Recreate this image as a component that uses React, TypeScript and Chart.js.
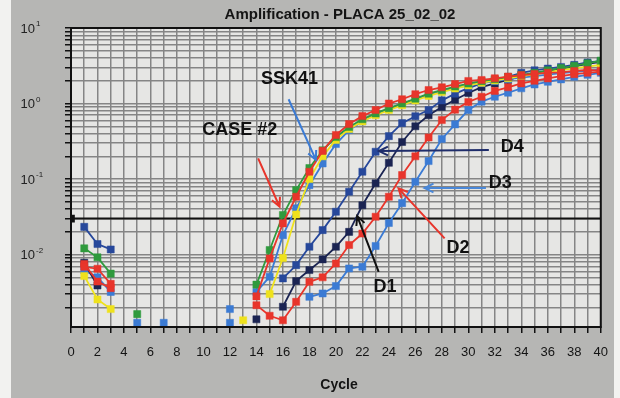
import React, { useEffect, useRef } from "react";
import { Chart, registerables } from "chart.js";

Chart.register(...registerables);

const chartTitle = "Amplification - PLACA 25_02_02";
const xTitle = "Cycle";
const xLabelValues = [0, 2, 4, 6, 8, 10, 12, 14, 16, 18, 20, 22, 24, 26, 28, 30, 32, 34, 36, 38, 40];
const yDecades = [10, 1, 0.1, 0.01];
const yExponents = ["1", "0", "-1", "-2"];
const threshold = 0.03;

// [cycle, fluorescence] pairs
const caseRed: [number, number][] = [
  [1, 0.0069], [2, 0.0065], [3, 0.0041],
  [14, 0.0028], [15, 0.0089], [16, 0.0259], [17, 0.0583], [18, 0.125], [19, 0.236], [20, 0.383],
  [21, 0.535], [22, 0.682], [23, 0.82], [24, 1.0], [25, 1.14], [26, 1.33], [27, 1.51], [28, 1.64],
  [29, 1.81], [30, 1.99], [31, 2.05], [32, 2.16], [33, 2.27], [34, 2.38], [35, 2.46], [36, 2.56],
  [37, 2.58], [38, 2.7], [39, 2.78], [40, 2.72],
];
const d2Red: [number, number][] = [
  [1, 0.0075], [2, 0.0044], [3, 0.0036],
  [14, 0.00214], [15, 0.00155], [16, 0.00135], [17, 0.00237], [18, 0.00436], [19, 0.005], [20, 0.00764],
  [21, 0.0134], [22, 0.019], [23, 0.0317], [24, 0.0583], [25, 0.113], [26, 0.2], [27, 0.356], [28, 0.604],
  [29, 0.83], [30, 1.05], [31, 1.23], [32, 1.47], [33, 1.64], [34, 1.85], [35, 2.0], [36, 2.15],
  [37, 2.3], [38, 2.45], [39, 2.55], [40, 2.65],
];
const greenSeries: [number, number][] = [
  [1, 0.0121], [2, 0.0092], [3, 0.0056], [5, 0.00163],
  [14, 0.004], [15, 0.0115], [16, 0.0334], [17, 0.0714], [18, 0.14], [19, 0.24], [20, 0.36],
  [21, 0.49], [22, 0.62], [23, 0.74], [24, 0.87], [25, 1.0], [26, 1.16], [27, 1.35], [28, 1.5],
  [29, 1.68], [30, 1.84], [31, 1.98], [32, 2.1], [33, 2.25], [34, 2.4], [35, 2.55], [36, 2.75],
  [37, 2.95], [38, 3.15], [39, 3.4], [40, 3.7],
];
const yellowSeries: [number, number][] = [
  [1, 0.0052], [2, 0.00255], [3, 0.0019], [13, 0.00135],
  [15, 0.003], [16, 0.009], [17, 0.034], [18, 0.1], [19, 0.2], [20, 0.33],
  [21, 0.46], [22, 0.58], [23, 0.7], [24, 0.82], [25, 0.95], [26, 1.1], [27, 1.26], [28, 1.42],
  [29, 1.58], [30, 1.74], [31, 1.88], [32, 2.02], [33, 2.16], [34, 2.3], [35, 2.44], [36, 2.6],
  [37, 2.76], [38, 2.92], [39, 3.08], [40, 3.25],
];
const ssk41Blue: [number, number][] = [
  [12, 0.0019],
  [14, 0.0032], [15, 0.0051], [16, 0.0181], [17, 0.041], [18, 0.083], [19, 0.161], [20, 0.291],
  [21, 0.446], [22, 0.58], [23, 0.72], [24, 0.86], [25, 1.0], [26, 1.14], [27, 1.3], [28, 1.45],
  [29, 1.6], [30, 1.74], [31, 1.87], [32, 1.98], [33, 2.1], [34, 2.2], [35, 2.3], [36, 2.42],
  [37, 2.52], [38, 2.62], [39, 2.72], [40, 2.82],
];
const d4Blue: [number, number][] = [
  [1, 0.0233], [2, 0.0138], [3, 0.0117],
  [16, 0.00484], [17, 0.00726], [18, 0.0127], [19, 0.0211], [20, 0.0369],
  [21, 0.068], [22, 0.125], [23, 0.23], [24, 0.37], [25, 0.55], [26, 0.68], [27, 0.82], [28, 1.1],
  [29, 1.35], [30, 1.6], [31, 1.85], [32, 2.05], [33, 2.25], [34, 2.55], [35, 2.75], [36, 2.9],
  [37, 3.05], [38, 3.25], [39, 3.5], [40, 3.65],
];
const d1Navy: [number, number][] = [
  [1, 0.0078], [2, 0.0039],
  [14, 0.00139],
  [16, 0.00204], [17, 0.00446], [18, 0.00624], [19, 0.00865], [20, 0.0127],
  [21, 0.02], [22, 0.045], [23, 0.088], [24, 0.164], [25, 0.31], [26, 0.5], [27, 0.7], [28, 0.9],
  [29, 1.12], [30, 1.38], [31, 1.65], [32, 1.85], [33, 2.05], [34, 2.3], [35, 2.5], [36, 2.7],
  [37, 2.9], [38, 3.1], [39, 3.35], [40, 3.55],
];
const d3Blue: [number, number][] = [
  [1, 0.0062], [2, 0.005], [3, 0.0032], [5, 0.00125], [7, 0.00125], [12, 0.00125],
  [18, 0.00276], [19, 0.00306], [20, 0.00383],
  [21, 0.00656], [22, 0.0069], [23, 0.013], [24, 0.0262], [25, 0.048], [26, 0.092], [27, 0.173], [28, 0.34],
  [29, 0.53], [30, 0.82], [31, 1.06], [32, 1.23], [33, 1.39], [34, 1.59], [35, 1.79], [36, 1.94],
  [37, 2.09], [38, 2.26], [39, 2.4], [40, 2.55],
];

const RED = "#e8352b";
const GREEN = "#2f9a3d";
const YELLOW = "#efe21c";
const LBLUE = "#3b7bd4";
const MBLUE = "#27489b";
const NAVY = "#1b2452";

const seriesList = [
  { name: "CASE #2", pts: caseRed, color: RED },
  { name: "D2", pts: d2Red, color: RED },
  { name: "green", pts: greenSeries, color: GREEN },
  { name: "yellow", pts: yellowSeries, color: YELLOW },
  { name: "SSK41", pts: ssk41Blue, color: LBLUE },
  { name: "D4", pts: d4Blue, color: MBLUE },
  { name: "D1", pts: d1Navy, color: NAVY },
  { name: "D3", pts: d3Blue, color: LBLUE },
];

// annotations in data coordinates: [cycle, value]
const annLabels = ["SSK41", "CASE #2", "D4", "D3", "D2", "D1"];
const annTextAt: [number, number][] = [[16.49, 2.11], [12.75, 0.446], [33.31, 0.269], [32.41, 0.0885], [29.23, 0.0124], [23.7, 0.00377]];
const annFrom: [number, number][] = [[16.43, 1.14], [14.13, 0.188], [31.55, 0.242], [31.33, 0.076], [28.21, 0.0164], [23.23, 0.00591]];
const annTo: [number, number][] = [[18.49, 0.179], [15.75, 0.043], [23.25, 0.235], [26.69, 0.076], [24.73, 0.0753], [21.61, 0.0324]];
const annColors = [LBLUE, RED, "#1f2d6a", "#4a88d8", RED, "#111111"];

function toData(pts: [number, number][]) {
  const out: { x: number; y: number | null }[] = [];
  let prev: number | null = null;
  for (const [c, v] of pts) {
    if (prev !== null && c - prev > 1) out.push({ x: prev + 0.5, y: null });
    out.push({ x: c, y: v });
    prev = c;
  }
  return out;
}

function yGridValues() {
  const vals: number[] = [];
  for (const d of [0.001, 0.01, 0.1, 1]) {
    for (let k = 1; k <= 9; k++) {
      const v = +(d * k).toPrecision(3);
      if (v >= 0.0011) vals.push(v);
    }
  }
  vals.push(10);
  return vals;
}

const decor = {
  id: "decor",
  beforeDraw(chart: any) {
    const { ctx, width, height, chartArea: a } = chart;
    ctx.save();
    ctx.fillStyle = "#f2f2f0";
    ctx.fillRect(0, 0, width, height);
    ctx.fillStyle = "#b6b6b4";
    ctx.fillRect(11, 0, 603, height);
    ctx.fillStyle = "#e6e6e4";
    ctx.fillRect(a.left, a.top, a.right - a.left, a.bottom - a.top);
    ctx.restore();
  },
  afterDraw(chart: any) {
    const { ctx, chartArea: a, scales } = chart;
    const xs = scales.x;
    const ys = scales.y;
    ctx.save();
    ctx.strokeStyle = "#111";
    ctx.lineWidth = 2;
    ctx.strokeRect(a.left, a.top, a.right - a.left, a.bottom - a.top);
    ctx.fillStyle = "#141414";
    ctx.font = "bold 15px 'Liberation Sans', Arial, sans-serif";
    ctx.textAlign = "center";
    ctx.textBaseline = "middle";
    ctx.fillText(chartTitle, 340, 15);
    ctx.font = "bold 14px 'Liberation Sans', Arial, sans-serif";
    ctx.fillText(xTitle, 339, 385);
    for (let i = 0; i < yDecades.length; i++) {
      const py = ys.getPixelForValue(yDecades[i]);
      ctx.fillStyle = "#222";
      ctx.font = "13px 'Liberation Sans', Arial, sans-serif";
      ctx.textAlign = "right";
      ctx.textBaseline = "middle";
      ctx.fillText("10", 35, py + 1);
      ctx.font = "8px 'Liberation Sans', Arial, sans-serif";
      ctx.textAlign = "left";
      ctx.fillText(yExponents[i], 36, py - 4);
    }
    for (let i = 0; i < annLabels.length; i++) {
      const fx = xs.getPixelForValue(annFrom[i][0]);
      const fy = ys.getPixelForValue(annFrom[i][1]);
      const tx = xs.getPixelForValue(annTo[i][0]);
      const ty = ys.getPixelForValue(annTo[i][1]);
      ctx.strokeStyle = annColors[i];
      ctx.lineWidth = 2;
      ctx.beginPath();
      ctx.moveTo(fx, fy);
      ctx.lineTo(tx, ty);
      const ang = Math.atan2(ty - fy, tx - fx);
      const hl = 10;
      ctx.moveTo(tx - hl * Math.cos(ang - 0.45), ty - hl * Math.sin(ang - 0.45));
      ctx.lineTo(tx, ty);
      ctx.lineTo(tx - hl * Math.cos(ang + 0.45), ty - hl * Math.sin(ang + 0.45));
      ctx.stroke();
      const lx = xs.getPixelForValue(annTextAt[i][0]);
      const ly = ys.getPixelForValue(annTextAt[i][1]);
      ctx.fillStyle = "#111";
      ctx.font = "bold 18px 'Liberation Sans', Arial, sans-serif";
      ctx.textAlign = "center";
      ctx.textBaseline = "middle";
      ctx.fillText(annLabels[i], lx, ly);
    }
    ctx.restore();
  },
};

export default function App() {
  const ref = useRef<HTMLCanvasElement | null>(null);
  useEffect(() => {
    if (!ref.current) return;
    const gridVals = yGridValues();
    const datasets: any[] = seriesList.map((s) => ({
      label: s.name,
      data: toData(s.pts),
      borderColor: s.color,
      backgroundColor: s.color,
      pointBackgroundColor: s.color,
      pointBorderColor: s.color,
      borderWidth: 1.8,
      pointStyle: "rect",
      pointRadius: 5,
      pointBorderWidth: 0.5,
      spanGaps: false,
      tension: 0,
    }));
    datasets.push({
      label: "threshold",
      data: [{ x: 0, y: threshold }, { x: 40, y: threshold }],
      borderColor: "#111",
      backgroundColor: "#111",
      borderWidth: 2,
      pointRadius: [4, 0],
      pointStyle: "rect",
    });
    const gridStyle = { color: "#858585", lineWidth: 1.5, tickColor: "#111", tickWidth: 1.5, tickLength: 6 };
    const chart = new Chart(ref.current, {
      type: "line",
      data: { datasets },
      plugins: [decor],
      options: {
        animation: false,
        responsive: false,
        devicePixelRatio: 1,
        layout: { padding: { left: 0, right: 14, top: 28, bottom: 0 } },
        plugins: { legend: { display: false }, tooltip: { enabled: false }, title: { display: false } },
        scales: {
          x: {
            type: "linear",
            min: 0,
            max: 40,
            afterFit: (s: any) => { s.height = 71; },
            ticks: {
              stepSize: 1,
              autoSkip: false,
              maxRotation: 0,
              padding: 12,
              color: "#141414",
              font: { family: "'Liberation Sans', Arial, sans-serif", size: 13 },
              callback: (v: any) => (xLabelValues.includes(Number(v)) ? String(v) : ""),
            },
            grid: gridStyle,
            border: { color: "#111", width: 2 },
          },
          y: {
            type: "logarithmic",
            min: 0.0011,
            max: 10,
            afterFit: (s: any) => { s.width = 71; },
            afterBuildTicks: (s: any) => { s.ticks = gridVals.map((v) => ({ value: v })); },
            ticks: { autoSkip: false, callback: () => "" },
            grid: gridStyle,
            border: { color: "#111", width: 2 },
          },
        },
      } as any,
    });
    return () => chart.destroy();
  }, []);
  return (
    <div style={{ position: "absolute", left: 0, top: 0, width: 620, height: 398 }}>
      <canvas ref={ref} width={620} height={398} style={{ display: "block" }} />
    </div>
  );
}
